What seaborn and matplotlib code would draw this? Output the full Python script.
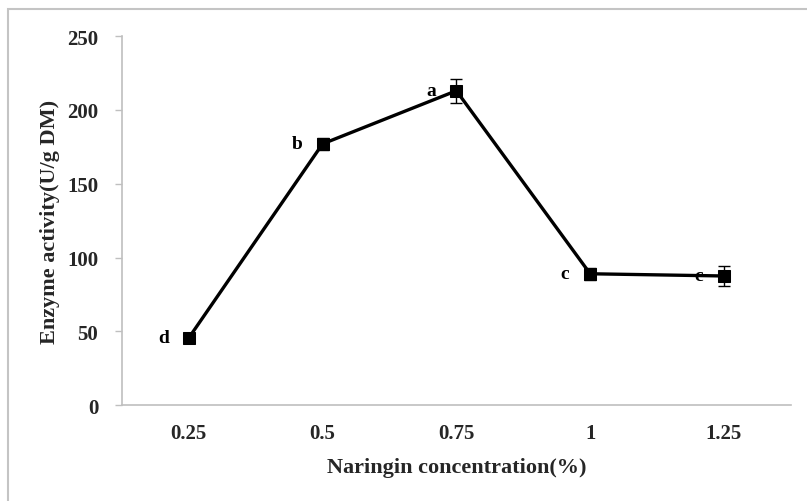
import matplotlib
matplotlib.use("Agg")
import matplotlib.pyplot as plt
import seaborn as sns
import pandas as pd
import numpy as np
from matplotlib.patches import Rectangle

concentrations = ["0.25", "0.5", "0.75", "1", "1.25"]
activity = [45.5, 177.0, 213.0, 89.0, 87.5]
errors = [3.0, 4.0, 8.0, 4.0, 6.5]
letters = ["d", "b", "a", "c", "c"]
yticks = [0, 50, 100, 150, 200, 250]

sns.set_theme(style="white")
plt.rcParams["font.family"] = ["Liberation Serif", "DejaVu Serif"]
plt.rcParams["font.weight"] = "bold"

df = pd.DataFrame({"pos": np.arange(len(concentrations)), "activity": activity})

fig = plt.figure(figsize=(8.07, 5.02), dpi=100)
ax = fig.add_axes([0.151, 0.191, 0.829, 0.735])

sns.lineplot(data=df, x="pos", y="activity", ax=ax, color="black", linewidth=2.4,
             marker="s", markersize=8, markeredgecolor="black", markerfacecolor="black")
ax.errorbar(df["pos"], df["activity"], yerr=errors, fmt="none", ecolor="black",
            elinewidth=1.0, capsize=4, capthick=1.0)

for i, (v, lab) in enumerate(zip(activity, letters)):
    ax.annotate(lab, (i, v), xytext=(-25, 0), textcoords="offset pixels",
                ha="center", va="center", fontsize=14, fontweight="bold", color="black")

ax.set_xlim(-0.5, len(concentrations) - 0.5)
ax.set_ylim(0, 250)
ax.set_yticks(yticks)
ax.set_xticks(np.arange(len(concentrations)))
ax.set_xticklabels(concentrations)
ax.set_xticks(np.arange(-0.5, len(concentrations)), minor=True)
ax.tick_params(axis="x", which="major", length=0, pad=13, labelsize=15)
ax.tick_params(axis="x", which="minor", length=6, color="#bfbfbf", width=1)
ax.tick_params(axis="y", which="major", length=5, color="#bfbfbf", width=1, pad=12, labelsize=15, left=True)
for t in ax.get_xticklabels() + ax.get_yticklabels():
    t.set_fontweight("bold")

for s in ["top", "right"]:
    ax.spines[s].set_visible(False)
for s in ["left", "bottom"]:
    ax.spines[s].set_color("#bfbfbf")
    ax.spines[s].set_linewidth(1.2)

ax.set_xlabel("Naringin concentration(%)", fontsize=16, fontweight="bold", labelpad=10)
ax.set_ylabel("Enzyme activity(U/g DM)", fontsize=16, fontweight="bold", labelpad=5)

fig.patches.append(Rectangle((8 / 807, -0.05), 1.2, 1 - 10 / 502 + 0.05, transform=fig.transFigure,
                             fill=False, edgecolor="#c4c4c4", linewidth=1.5))

fig.savefig("out.png", dpi=100)
